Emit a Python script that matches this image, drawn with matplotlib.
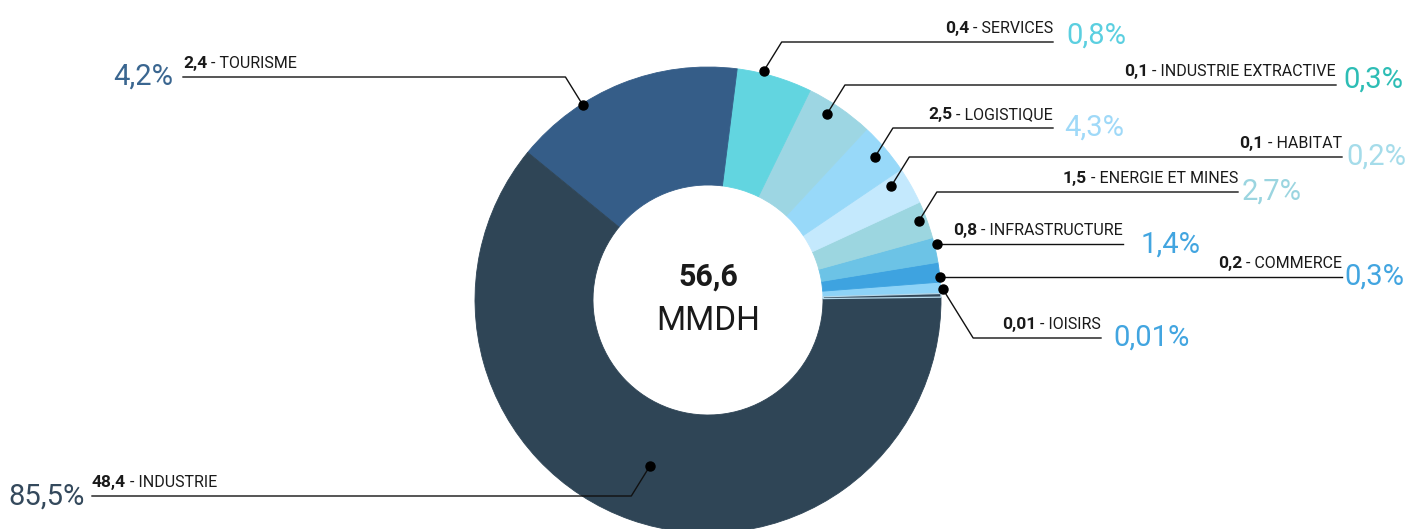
import matplotlib
matplotlib.use('Agg')
import numpy as np
import matplotlib.pyplot as plt

plt.rcParams['font.family'] = ['Roboto', 'DejaVu Sans']

W, H = 1408, 529

# slices counterclockwise from the right; arc widths (degrees)
names = ['', 'IOISIRS', 'COMMERCE', 'INFRASTRUCTURE', 'ENERGIE ET MINES', 'HABITAT',
         'LOGISTIQUE', 'INDUSTRIE EXTRACTIVE', 'SERVICES', 'TOURISME', 'INDUSTRIE']
arc_deg = [0.9, 2.8, 4.9, 6.2, 9.3, 9.3, 13.0, 16.9, 18.8, 57.9, 220.0]
amounts = ['', '0,01', '0,2', '0,8', '1,5', '0,1', '2,5', '0,1', '0,4', '2,4', '48,4']
shares = ['', '0,01%', '0,3%', '1,4%', '2,7%', '0,2%', '4,3%', '0,3%', '0,8%', '4,2%', '85,5%']
total = '56,6'
unit = 'MMDH'

slice_colors = ['#34495a', '#8ed3f7', '#3ea3e0', '#6cc3e6', '#9cd6e0', '#c4e9fd',
                '#98d9f9', '#9dd6e3', '#62d5e0', '#355d88', '#2f4556']
share_colors = ['', '#42a5e0', '#42a5e0', '#42a5e0', '#9bd5e0', '#a5dcea',
                '#9fd9f8', '#2dbdb5', '#5bcfe0', '#3a6690', '#34495c']

# label layout in image pixels: dot angle/radius, leader line y, line end x,
# side (+1 right, -1 left), percent position
layout = {
    'IOISIRS': dict(ang=2.7, r=235, ly=338, lx=1101, side=1, px=1113, py=338),
    'COMMERCE': dict(ang=5.7, r=233, ly=None, lx=1342, side=1, px=1344, py=277),
    'INFRASTRUCTURE': dict(ang=13.7, r=236, ly=None, lx=1123, side=1, px=1141, py=245),
    'ENERGIE ET MINES': dict(ang=20.5, r=225, ly=192, lx=1238, side=1, px=1242, py=192),
    'HABITAT': dict(ang=31.9, r=216, ly=157, lx=1342, side=1, px=1346, py=157),
    'LOGISTIQUE': dict(ang=40.6, r=220, ly=128, lx=1053, side=1, px=1064, py=128),
    'INDUSTRIE EXTRACTIVE': dict(ang=57.4, r=221, ly=85, lx=1336, side=1, px=1343, py=80),
    'SERVICES': dict(ang=76.3, r=236, ly=42, lx=1053, side=1, px=1066, py=36),
    'TOURISME': dict(ang=122.7, r=232, ly=77, lx=183, side=-1, px=173, py=77),
    'INDUSTRIE': dict(ang=250.7, r=176, ly=496, lx=92, side=-1, px=85, py=497),
}

cx, cy = 708, 300
R, ring = 233, 118


def Y(y):
    return H - y


fig = plt.figure(figsize=(W / 100, H / 100), dpi=100, facecolor='w')
ax = fig.add_axes([0, 0, 1, 1])

wedges, _ = ax.pie(arc_deg, colors=slice_colors, startangle=0.7, counterclock=True,
                   radius=R, center=(cx, Y(cy)),
                   wedgeprops=dict(width=ring, linewidth=0.6))
for w, c in zip(wedges, slice_colors):
    w.set_edgecolor(c)
wedges[0].set_edgecolor('#b5d8ea')
wedges[0].set_linewidth(0.9)
wedges[0].set_zorder(3)

ax.set_xlim(0, W)
ax.set_ylim(0, H)
ax.set_aspect('auto')
ax.axis('off')

# centre text
ax.text(cx, Y(277), total, ha='center', va='center', fontsize=22, fontweight='bold', color='#1a1a1a')
ax.text(cx, Y(321), unit, ha='center', va='center', fontsize=24, color='#1a1a1a')

lab_size = 11.5
for i, name in enumerate(names):
    if not name:
        continue
    L = layout[name]
    a = np.deg2rad(L['ang'])
    dx, dy = cx + L['r'] * np.cos(a), cy - L['r'] * np.sin(a)
    ly = dy if L['ly'] is None else L['ly']
    ex = dx + L['side'] * 0.62 * abs(ly - dy)
    ax.plot([dx, ex, L['lx']], [Y(dy), Y(ly), Y(ly)], color='#111111', lw=1.0, zorder=4)
    ax.plot(dx, Y(dy), 'o', color='#000000', ms=6.5, zorder=5)

    if L['side'] > 0:
        t = ax.text(L['lx'], Y(ly - 9), ' - ' + name, ha='right', va='baseline',
                    fontsize=lab_size, color='#1a1a1a')
        ax.annotate(amounts[i], xy=(0, 0), xycoords=t, ha='right', va='bottom',
                    fontsize=lab_size + 1, fontweight='bold', color='#1a1a1a')
        ax.text(L['px'], Y(L['py']), shares[i], ha='left', va='center',
                fontsize=21, color=share_colors[i])
    else:
        t = ax.text(L['lx'], Y(ly - 9), amounts[i], ha='left', va='baseline',
                    fontsize=lab_size + 1, fontweight='bold', color='#1a1a1a')
        ax.annotate(' - ' + name, xy=(1, 0), xycoords=t, ha='left', va='bottom',
                    fontsize=lab_size, color='#1a1a1a')
        ax.text(L['px'], Y(L['py']), shares[i], ha='right', va='center',
                fontsize=21, color=share_colors[i])

fig.savefig('out.png', dpi=100, facecolor='w')
